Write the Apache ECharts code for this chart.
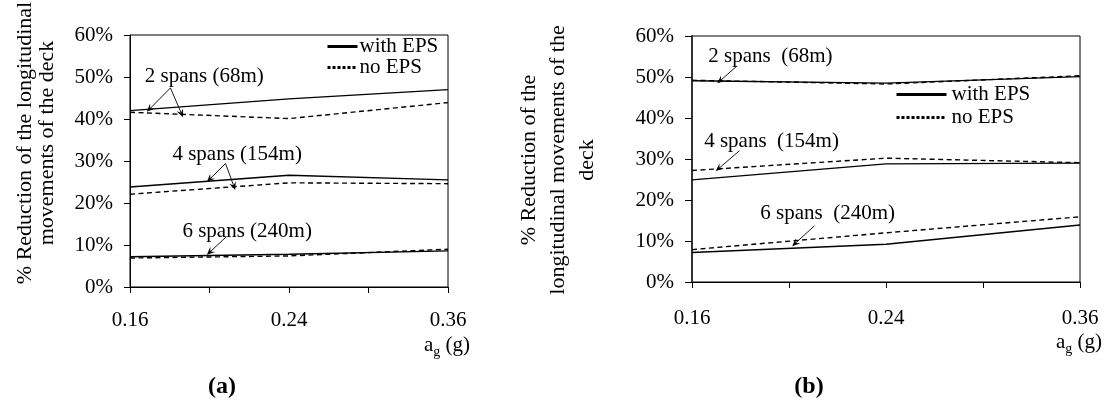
<!DOCTYPE html>
<html>
<head>
<meta charset="utf-8">
<script src="https://cdn.jsdelivr.net/npm/echarts@6/dist/echarts.min.js"></script>
<style>
html,body{margin:0;padding:0;background:#fff;}
#chart{width:1104px;height:401px;}
</style>
</head>
<body>
<div id="chart"></div>
<script>
// ---- data ----
const agLevels = ['0.16', '0.24', '0.36'];
const xTickLabels = ['0.16', '', '0.24', '', '0.36'];
const yTickValues = [0, 10, 20, 30, 40, 50, 60];

// (a)
const a_2span_with = [42.0, 44.8, 47.0];
const a_2span_no   = [41.6, 40.1, 43.9];
const a_4span_with = [23.8, 26.6, 25.5];
const a_4span_no   = [22.1, 24.8, 24.6];
const a_6span_with = [7.2, 7.8, 8.6];
const a_6span_no   = [6.9, 7.4, 9.0];
// (b)
const b_2span_with = [49.1, 48.5, 50.1];
const b_2span_no   = [49.2, 48.3, 50.3];
const b_4span_with = [24.9, 28.8, 29.0];
const b_4span_no   = [27.2, 30.2, 29.1];
const b_6span_with = [7.2, 9.2, 13.9];
const b_6span_no   = [7.9, 12.0, 15.9];

const seriesNames = ['with EPS', 'no EPS'];
const spanLabelsA = ['2 spans (68m)', '4 spans (154m)', '6 spans (240m)'];
const spanLabelsB = ['2 spans  (68m)', '4 spans  (154m)', '6 spans  (240m)'];

// annotation layout (in axis data space)
const annotA = [
  {at: [0.934, 50.1], from: [0.509, 47.4], to: [[0.248, 42.4], [0.647, 41.3]]},
  {at: [1.348, 31.5], from: [1.202, 29.4], to: [[1.004, 25.7], [1.306, 24.0]]},
  {at: [1.474, 13.2], from: [1.214, 12.0], to: [[1.004, 8.3]]}
];
const annotB = [
  {at: [0.808, 55.1], from: [0.464, 52.7], to: [[0.292, 49.1]]},
  {at: [0.820, 34.2], from: [0.488, 32.0], to: [[0.276, 27.7]]},
  {at: [1.398, 16.6], from: [1.262, 13.7], to: [[1.063, 9.4]]}
];

const FONT = "'Liberation Serif', 'Times New Roman', serif";

function pts(vals) {
  return agLevels.map((lv, i) => [xTickLabels.indexOf(lv), vals[i]]);
}

function annotations(list, labels) {
  const lines = [];
  list.forEach(a => a.to.forEach(t => lines.push([{coord: a.from}, {coord: t}])));
  return {
    markLine: {
      silent: true, animation: false,
      symbol: ['none', 'path://M0,10 L5,0 L10,10 L5,6 Z'], symbolSize: [7, 8],
      label: {show: false},
      lineStyle: {color: '#000', width: 0.9, type: 'solid'},
      emphasis: {disabled: true},
      data: lines
    },
    markPoint: {
      silent: true, animation: false,
      symbol: 'rect', symbolSize: 1,
      itemStyle: {color: 'rgba(0,0,0,0)'},
      label: {show: true, position: 'inside', formatter: '{b}', color: '#000',
              fontSize: 21, fontFamily: FONT},
      data: list.map((a, i) => ({name: labels[i], coord: a.at}))
    }
  };
}

function line(name, vals, gi, extra) {
  const dashed = name === seriesNames[1];
  return Object.assign({
    type: 'line', name: name,
    xAxisIndex: gi, yAxisIndex: gi,
    data: pts(vals),
    symbol: 'none', showSymbol: false,
    silent: true, animation: false,
    itemStyle: {color: '#000'},
    lineStyle: {color: '#000', width: 1.4, type: dashed ? [5, 3.5] : 'solid'}
  }, extra || {});
}

const chart = echarts.init(document.getElementById('chart'), null, {renderer: 'canvas'});

function xAxis(gi, margin, tick) {
  return {
    type: 'value', gridIndex: gi, min: 0, max: xTickLabels.length - 1, interval: 1,
    axisLine: {show: true, lineStyle: {color: '#000', width: 1}},
    axisTick: {show: true, inside: false, length: tick, lineStyle: {color: '#000'}},
    splitLine: {show: false},
    axisLabel: {margin: margin, color: '#000', fontSize: 21, lineHeight: 21, fontFamily: FONT,
                formatter: v => xTickLabels[Math.round(v)] || ''}
  };
}
function yAxis(gi, margin, tick, lw, lc) {
  return {
    type: 'value', gridIndex: gi, min: yTickValues[0], max: yTickValues[yTickValues.length - 1],
    interval: yTickValues[1] - yTickValues[0],
    axisLine: {show: true, lineStyle: {color: lc, width: lw}},
    axisTick: {show: true, inside: false, length: tick, lineStyle: {color: '#000'}},
    splitLine: {show: false},
    axisLabel: {margin: margin, color: '#000', fontSize: 21, lineHeight: 21, fontFamily: FONT,
                padding: [6, 0, 0, 0], formatter: '{value}%'}
  };
}

const legendItems = [
  {name: seriesNames[0], itemStyle: {opacity: 0}, lineStyle: {width: 3, type: 'solid', color: '#000'}},
  {name: seriesNames[1], itemStyle: {opacity: 0}, lineStyle: {width: 3, type: [3, 2], color: '#000'}}
];

const subRich = {
  n: {fontSize: 21, lineHeight: 25, verticalAlign: 'top', fontFamily: FONT, fill: '#000'},
  s: {fontSize: 14, lineHeight: 14, verticalAlign: 'bottom', fontFamily: FONT, fill: '#000'}
};

chart.setOption({
  backgroundColor: '#fff',
  animation: false,
  textStyle: {fontFamily: FONT, color: '#000'},
  grid: [
    {left: 130, top: 35, width: 318, height: 252, show: true, borderColor: '#000', borderWidth: 1,
     backgroundColor: 'transparent', containLabel: false},
    {left: 692, top: 36, width: 388, height: 246, show: true, borderColor: '#000', borderWidth: 1,
     backgroundColor: 'transparent', containLabel: false}
  ],
  xAxis: [xAxis(0, 23, 6), xAxis(1, 26, 6)],
  yAxis: [yAxis(0, 17, 6, 1, '#000'), yAxis(1, 18, 7, 2, '#333')],
  legend: [
    {left: 326, top: 36, orient: 'vertical', padding: 0, itemGap: 0, itemWidth: 30, itemHeight: 17,
     selectedMode: false, data: legendItems, itemStyle: {opacity: 0},
     textStyle: {fontSize: 21, lineHeight: 17, color: '#000', fontFamily: FONT, padding: [0, 0, 0, -3]}},
    {left: 895, top: 83, orient: 'vertical', padding: 0, itemGap: 0, itemWidth: 50, itemHeight: 23,
     selectedMode: false, data: legendItems, itemStyle: {opacity: 0},
     textStyle: {fontSize: 21, lineHeight: 23, color: '#000', fontFamily: FONT}}
  ],
  series: [
    line(seriesNames[0], a_2span_with, 0, annotations(annotA, spanLabelsA)),
    line(seriesNames[1], a_2span_no, 0),
    line(seriesNames[0], a_4span_with, 0),
    line(seriesNames[1], a_4span_no, 0),
    line(seriesNames[0], a_6span_with, 0),
    line(seriesNames[1], a_6span_no, 0),
    line(seriesNames[0], b_2span_with, 1, annotations(annotB, spanLabelsB)),
    line(seriesNames[1], b_2span_no, 1),
    line(seriesNames[0], b_4span_with, 1),
    line(seriesNames[1], b_4span_no, 1),
    line(seriesNames[0], b_6span_with, 1),
    line(seriesNames[1], b_6span_no, 1)
  ],
  graphic: [
    {type: 'text', x: 36, y: 143, rotation: Math.PI / 2, silent: true,
     style: {text: '% Reduction of the longitudinal\nmovements of the deck', fontSize: 22, lineHeight: 22,
             fontFamily: FONT, fill: '#000', align: 'center', verticalAlign: 'middle'}},
    {type: 'text', x: 558, y: 160, rotation: Math.PI / 2, silent: true,
     style: {text: '% Reduction of the\nlongitudinal movements of the\ndeck', fontSize: 22, lineHeight: 29,
             fontFamily: FONT, fill: '#000', align: 'center', verticalAlign: 'middle'}},
    {type: 'text', x: 447, y: 347, silent: true,
     style: {text: '{n|a}{s|g}{n| (g)}', rich: subRich, align: 'center', verticalAlign: 'middle'}},
    {type: 'text', x: 1079, y: 344, silent: true,
     style: {text: '{n|a}{s|g}{n| (g)}', rich: subRich, align: 'center', verticalAlign: 'middle'}},
    {type: 'text', x: 222, y: 387, silent: true,
     style: {text: '(a)', fontSize: 24, fontWeight: 'bold', fontFamily: FONT, fill: '#000',
             align: 'center', verticalAlign: 'middle'}},
    {type: 'text', x: 809, y: 387, silent: true,
     style: {text: '(b)', fontSize: 24, fontWeight: 'bold', fontFamily: FONT, fill: '#000',
             align: 'center', verticalAlign: 'middle'}}
  ]
});
</script>
</body>
</html>
